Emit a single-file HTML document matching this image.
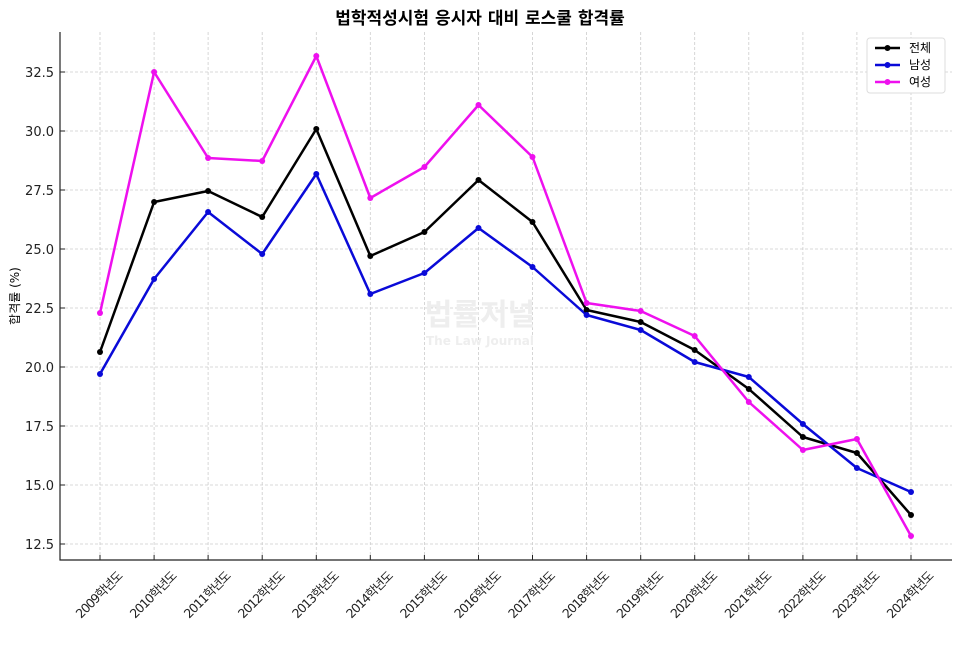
<!DOCTYPE html>
<html><head><meta charset="utf-8"><style>
body{margin:0;background:#fff}
svg text{font-family:"DejaVu Sans","Noto Sans CJK KR",sans-serif}
</style></head><body>
<svg width="960" height="645" xmlns="http://www.w3.org/2000/svg">
<text x="480" y="24" text-anchor="middle" font-size="17" font-weight="bold" font-family="Noto Sans CJK KR, sans-serif">법학적성시험 응시자 대비 로스쿨 합격률</text>
<g stroke="#ccc" stroke-dasharray="3,2" stroke-width="0.8">
<line x1="60" x2="952" y1="72" y2="72"/><line x1="60" x2="952" y1="131" y2="131"/><line x1="60" x2="952" y1="190" y2="190"/><line x1="60" x2="952" y1="249" y2="249"/><line x1="60" x2="952" y1="308" y2="308"/><line x1="60" x2="952" y1="367" y2="367"/><line x1="60" x2="952" y1="426" y2="426"/><line x1="60" x2="952" y1="485" y2="485"/><line x1="60" x2="952" y1="544" y2="544"/>
<line y1="32" y2="560" x1="100" x2="100"/><line y1="32" y2="560" x1="154.1" x2="154.1"/><line y1="32" y2="560" x1="208.1" x2="208.1"/><line y1="32" y2="560" x1="262.2" x2="262.2"/><line y1="32" y2="560" x1="316.3" x2="316.3"/><line y1="32" y2="560" x1="370.3" x2="370.3"/><line y1="32" y2="560" x1="424.4" x2="424.4"/><line y1="32" y2="560" x1="478.5" x2="478.5"/><line y1="32" y2="560" x1="532.5" x2="532.5"/><line y1="32" y2="560" x1="586.6" x2="586.6"/><line y1="32" y2="560" x1="640.7" x2="640.7"/><line y1="32" y2="560" x1="694.7" x2="694.7"/><line y1="32" y2="560" x1="748.8" x2="748.8"/><line y1="32" y2="560" x1="802.9" x2="802.9"/><line y1="32" y2="560" x1="856.9" x2="856.9"/><line y1="32" y2="560" x1="911" x2="911"/>
</g>
<g stroke="#222" stroke-width="1">
<line x1="60" x2="65" y1="72" y2="72"/><line x1="60" x2="65" y1="131" y2="131"/><line x1="60" x2="65" y1="190" y2="190"/><line x1="60" x2="65" y1="249" y2="249"/><line x1="60" x2="65" y1="308" y2="308"/><line x1="60" x2="65" y1="367" y2="367"/><line x1="60" x2="65" y1="426" y2="426"/><line x1="60" x2="65" y1="485" y2="485"/><line x1="60" x2="65" y1="544" y2="544"/>
<line y1="555" y2="560" x1="100" x2="100"/><line y1="555" y2="560" x1="154.1" x2="154.1"/><line y1="555" y2="560" x1="208.1" x2="208.1"/><line y1="555" y2="560" x1="262.2" x2="262.2"/><line y1="555" y2="560" x1="316.3" x2="316.3"/><line y1="555" y2="560" x1="370.3" x2="370.3"/><line y1="555" y2="560" x1="424.4" x2="424.4"/><line y1="555" y2="560" x1="478.5" x2="478.5"/><line y1="555" y2="560" x1="532.5" x2="532.5"/><line y1="555" y2="560" x1="586.6" x2="586.6"/><line y1="555" y2="560" x1="640.7" x2="640.7"/><line y1="555" y2="560" x1="694.7" x2="694.7"/><line y1="555" y2="560" x1="748.8" x2="748.8"/><line y1="555" y2="560" x1="802.9" x2="802.9"/><line y1="555" y2="560" x1="856.9" x2="856.9"/><line y1="555" y2="560" x1="911" x2="911"/>
</g>
<text x="480" y="325" text-anchor="middle" font-size="30" font-weight="bold" fill="#eee" font-family="Noto Sans CJK KR, sans-serif">법률저널</text>
<text x="480" y="345" text-anchor="middle" font-size="12" font-weight="bold" fill="#eee" font-family="Liberation Serif, serif">The Law Journal</text>
<path d="M60 32V560H952" fill="none" stroke="#222" stroke-width="1.2"/>
<g font-size="13" fill="#222" text-anchor="end">
<text x="54" y="77">32.5</text><text x="54" y="136">30.0</text><text x="54" y="195">27.5</text><text x="54" y="254">25.0</text><text x="54" y="313">22.5</text><text x="54" y="372">20.0</text><text x="54" y="431">17.5</text><text x="54" y="490">15.0</text><text x="54" y="549">12.5</text>
</g>
<text transform="translate(19,296) rotate(-90)" text-anchor="middle" font-size="12">합격률 (%)</text>
<g font-size="12.5" fill="#222" text-anchor="middle" letter-spacing="-1">
<text transform="translate(102,598) rotate(-45)">2009학년도</text>
<text transform="translate(156.1,598) rotate(-45)">2010학년도</text>
<text transform="translate(210.1,598) rotate(-45)">2011학년도</text>
<text transform="translate(264.2,598) rotate(-45)">2012학년도</text>
<text transform="translate(318.3,598) rotate(-45)">2013학년도</text>
<text transform="translate(372.3,598) rotate(-45)">2014학년도</text>
<text transform="translate(426.4,598) rotate(-45)">2015학년도</text>
<text transform="translate(480.5,598) rotate(-45)">2016학년도</text>
<text transform="translate(534.5,598) rotate(-45)">2017학년도</text>
<text transform="translate(588.6,598) rotate(-45)">2018학년도</text>
<text transform="translate(642.7,598) rotate(-45)">2019학년도</text>
<text transform="translate(696.7,598) rotate(-45)">2020학년도</text>
<text transform="translate(750.8,598) rotate(-45)">2021학년도</text>
<text transform="translate(804.9,598) rotate(-45)">2022학년도</text>
<text transform="translate(858.9,598) rotate(-45)">2023학년도</text>
<text transform="translate(913,598) rotate(-45)">2024학년도</text>
</g>
<g fill="none" stroke-width="2.5" stroke-linejoin="round">
<polyline stroke="#000" points="100,352 154.1,202 208.1,191 262.2,217 316.3,129 370.3,256 424.4,232 478.5,180 532.5,222 586.6,310 640.7,322 694.7,350 748.8,389 802.9,437 856.9,453 911,515"/>
<polyline stroke="#0a0ad8" points="100,374 154.1,279 208.1,212 262.2,254 316.3,174 370.3,294 424.4,273 478.5,228 532.5,267 586.6,315 640.7,330 694.7,362 748.8,377 802.9,424 856.9,468 911,492"/>
<polyline stroke="#ee10ee" points="100,313 154.1,72 208.1,158 262.2,161 316.3,56 370.3,198 424.4,167 478.5,105 532.5,157 586.6,303 640.7,311 694.7,336 748.8,402 802.9,450 856.9,439 911,536"/>
</g>
<g fill="#000"><circle cx="100" cy="352" r="3"/><circle cx="154.1" cy="202" r="3"/><circle cx="208.1" cy="191" r="3"/><circle cx="262.2" cy="217" r="3"/><circle cx="316.3" cy="129" r="3"/><circle cx="370.3" cy="256" r="3"/><circle cx="424.4" cy="232" r="3"/><circle cx="478.5" cy="180" r="3"/><circle cx="532.5" cy="222" r="3"/><circle cx="586.6" cy="310" r="3"/><circle cx="640.7" cy="322" r="3"/><circle cx="694.7" cy="350" r="3"/><circle cx="748.8" cy="389" r="3"/><circle cx="802.9" cy="437" r="3"/><circle cx="856.9" cy="453" r="3"/><circle cx="911" cy="515" r="3"/></g>
<g fill="#0a0ad8"><circle cx="100" cy="374" r="3"/><circle cx="154.1" cy="279" r="3"/><circle cx="208.1" cy="212" r="3"/><circle cx="262.2" cy="254" r="3"/><circle cx="316.3" cy="174" r="3"/><circle cx="370.3" cy="294" r="3"/><circle cx="424.4" cy="273" r="3"/><circle cx="478.5" cy="228" r="3"/><circle cx="532.5" cy="267" r="3"/><circle cx="586.6" cy="315" r="3"/><circle cx="640.7" cy="330" r="3"/><circle cx="694.7" cy="362" r="3"/><circle cx="748.8" cy="377" r="3"/><circle cx="802.9" cy="424" r="3"/><circle cx="856.9" cy="468" r="3"/><circle cx="911" cy="492" r="3"/></g>
<g fill="#ee10ee"><circle cx="100" cy="313" r="3"/><circle cx="154.1" cy="72" r="3"/><circle cx="208.1" cy="158" r="3"/><circle cx="262.2" cy="161" r="3"/><circle cx="316.3" cy="56" r="3"/><circle cx="370.3" cy="198" r="3"/><circle cx="424.4" cy="167" r="3"/><circle cx="478.5" cy="105" r="3"/><circle cx="532.5" cy="157" r="3"/><circle cx="586.6" cy="303" r="3"/><circle cx="640.7" cy="311" r="3"/><circle cx="694.7" cy="336" r="3"/><circle cx="748.8" cy="402" r="3"/><circle cx="802.9" cy="450" r="3"/><circle cx="856.9" cy="439" r="3"/><circle cx="911" cy="536" r="3"/></g>
<rect x="867" y="38" width="78" height="55" rx="3" fill="#fff" stroke="#ddd"/>
<g stroke-width="2.5"><line x1="875" x2="900" y1="48" y2="48" stroke="#000"/><line x1="875" x2="900" y1="65" y2="65" stroke="#0a0ad8"/><line x1="875" x2="900" y1="82" y2="82" stroke="#ee10ee"/></g>
<circle cx="887.5" cy="48" r="3"/><circle cx="887.5" cy="65" r="3" fill="#0a0ad8"/><circle cx="887.5" cy="82" r="3" fill="#ee10ee"/>
<g font-size="12"><text x="909" y="52">전체</text><text x="909" y="69">남성</text><text x="909" y="86">여성</text></g>
</svg>
</body></html>
